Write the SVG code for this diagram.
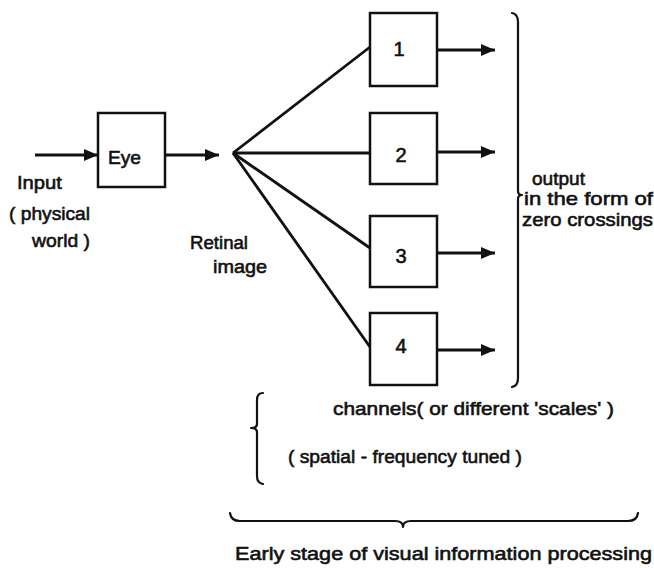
<svg xmlns="http://www.w3.org/2000/svg" width="654" height="568" viewBox="0 0 654 568">
  <defs>
    <marker id="arrow" viewBox="0 0 14 12" refX="14" refY="6" markerWidth="14" markerHeight="12" markerUnits="userSpaceOnUse" orient="auto">
      <path d="M0,0 L14,6 L0,12 Z" fill="#111"/>
    </marker>
    <style>
      .box { fill: #fff; stroke: #111; stroke-width: 2.5; }
      .wire { fill: none; stroke: #111; stroke-width: 2.8; }
      .brace { fill: none; stroke: #111; stroke-width: 2.2; stroke-linecap: round; stroke-linejoin: round; }
      text { font-family: "Liberation Sans", "DejaVu Sans", sans-serif; font-size: 19px; fill: #111; stroke: #111; stroke-width: 0.6; }
      .num { text-anchor: middle; font-size: 20px; }
    </style>
  </defs>
  <rect width="654" height="568" fill="#fff"/>

  <!-- connectors -->
  <g id="connectors">
    <line class="wire" x1="35" y1="155" x2="98" y2="155" marker-end="url(#arrow)"/>
    <line class="wire" x1="165" y1="155" x2="219" y2="155" marker-end="url(#arrow)"/>
    <line class="wire" x1="233" y1="153" x2="370" y2="47"/>
    <line class="wire" x1="233" y1="153" x2="370" y2="153"/>
    <line class="wire" x1="233" y1="153" x2="370" y2="248"/>
    <line class="wire" x1="233" y1="153" x2="370" y2="347"/>
    <line class="wire" x1="437" y1="50" x2="495" y2="50" marker-end="url(#arrow)"/>
    <line class="wire" x1="437" y1="152" x2="495" y2="152" marker-end="url(#arrow)"/>
    <line class="wire" x1="437" y1="253" x2="495" y2="253" marker-end="url(#arrow)"/>
    <line class="wire" x1="437" y1="350" x2="495" y2="350" marker-end="url(#arrow)"/>
  </g>

  <!-- eye -->
  <g id="eye">
    <rect class="box" x="98" y="113" width="67" height="74"/>
    <text x="108" y="164" textLength="33" lengthAdjust="spacingAndGlyphs">Eye</text>
  </g>

  <!-- channel filters -->
  <g id="channel-1">
    <rect class="box" x="370" y="13" width="67" height="73"/>
    <text class="num" x="399" y="56">1</text>
  </g>
  <g id="channel-2">
    <rect class="box" x="370" y="113" width="67" height="71"/>
    <text class="num" x="401" y="162">2</text>
  </g>
  <g id="channel-3">
    <rect class="box" x="370" y="216" width="67" height="71"/>
    <text class="num" x="401" y="263">3</text>
  </g>
  <g id="channel-4">
    <rect class="box" x="370" y="313" width="67" height="72"/>
    <text class="num" x="401" y="353">4</text>
  </g>

  <!-- labels -->
  <g id="input-label">
    <text x="17" y="189" textLength="45" lengthAdjust="spacingAndGlyphs">Input</text>
    <text x="9" y="220" textLength="81" lengthAdjust="spacingAndGlyphs">( physical</text>
    <text x="32" y="247" textLength="58" lengthAdjust="spacingAndGlyphs">world )</text>
  </g>
  <g id="retinal-label">
    <text x="190" y="249" textLength="58" lengthAdjust="spacingAndGlyphs">Retinal</text>
    <text x="213" y="273" textLength="54" lengthAdjust="spacingAndGlyphs">image</text>
  </g>

  <!-- output brace -->
  <g id="output">
    <path class="brace" d="M512,13 Q518,14 518,22 L518,191 Q518,195 522,195 Q518,195 518,199 L518,378 Q518,386 512,387"/>
    <text x="532" y="185" textLength="53" lengthAdjust="spacingAndGlyphs">output</text>
    <text x="524" y="205" textLength="129" lengthAdjust="spacingAndGlyphs">in the form of</text>
    <text x="522" y="226" textLength="131" lengthAdjust="spacingAndGlyphs">zero crossings</text>
  </g>

  <!-- channels brace -->
  <g id="channels">
    <path class="brace" d="M263,393 Q257,393 257,400 L257,424 Q257,428 251,428 Q257,428 257,432 L257,476 Q257,483 263,484"/>
    <text x="333" y="415" textLength="281" lengthAdjust="spacingAndGlyphs">channels( or different 'scales' )</text>
    <text x="288" y="463" textLength="234" lengthAdjust="spacingAndGlyphs">( spatial - frequency tuned )</text>
  </g>

  <!-- stage brace -->
  <g id="stage">
    <path class="brace" d="M230,513 Q231,521 240,521 L395,521 Q403,521 403,527 Q403,521 411,521 L628,521 Q637,521 638,513"/>
    <text x="235" y="560" textLength="417" lengthAdjust="spacingAndGlyphs">Early stage of visual information processing</text>
  </g>
</svg>
